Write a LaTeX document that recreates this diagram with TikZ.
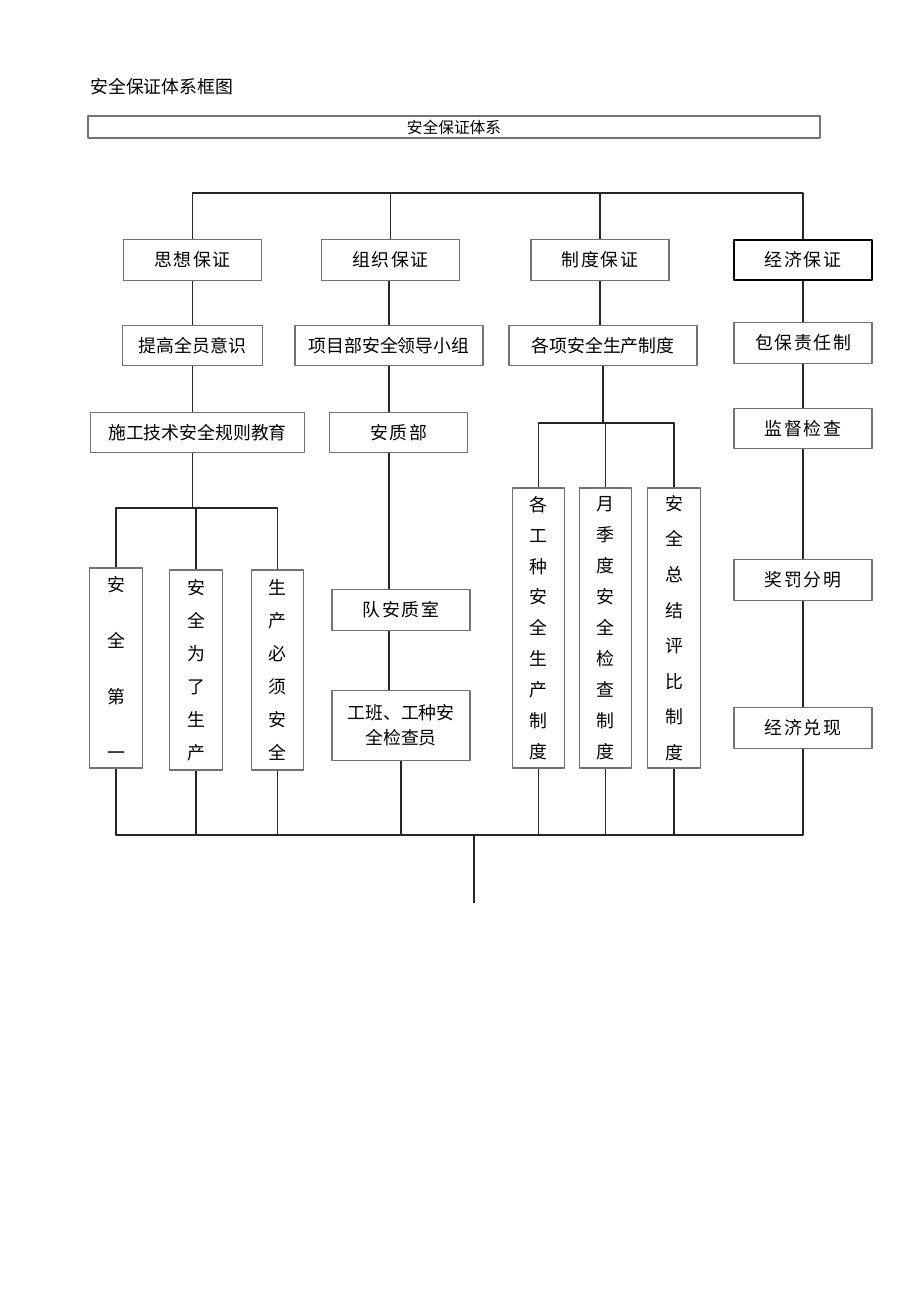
\documentclass[tikz,border=0pt]{standalone}
\usepackage{fontspec}
\setmainfont{Noto Sans CJK SC}
\newfontfamily\spaced[LetterSpace=9]{Noto Sans CJK SC}
\begin{document}
\begin{tikzpicture}[x=0.75pt,y=-0.75pt,line join=round,
	font=\fontsize{13.4}{16}\selectfont,
	box/.style={draw=black!55,line width=0.8pt,inner sep=0pt,align=center},
	wbox/.style={box,minimum width=103.5pt,minimum height=30.5pt},
	sbox/.style={wbox,font=\fontsize{13.4}{16}\spaced},
	vbox/.style={box,minimum width=39.5pt,minimum height=150pt},
	tall/.style={box,minimum width=39.5pt,minimum height=210pt},
	link/.style={draw=black!85,line width=1pt}]
	\useasboundingbox (0,0) rectangle (920,1306);
	\def\busT{193} \def\busS{508} \def\busD{423} \def\busB{835} % bus lines
	
	\node[anchor=west,inner sep=0pt] (title) at (90,87) {安全保证体系框图};
	\node[box,minimum width=549pt,minimum height=16.5pt,font=\fontsize{11.8}{14}\selectfont] (head) at (454,127) {安全保证体系};
	
	% first row
	\node[sbox] (s1) at (192.5,260) {思想保证};
	\node[sbox] (z1) at (390.5,260) {组织保证};
	\node[sbox] (d1) at (600,260) {制度保证};
	\node[sbox,draw=black,line width=1.4pt] (j1) at (803,260) {经济保证};
	
	% second row
	\node[wbox,minimum width=105.5pt] (s2) at (192.5,345.5) {提高全员意识};
	\node[wbox,minimum width=141pt] (z2) at (389,345.5) {项目部安全领导小组};
	\node[wbox,minimum width=141pt] (d2) at (603,345.5) {各项安全生产制度};
	\node[sbox] (j2) at (803,343) {包保责任制};
	
	% third row
	\node[wbox,minimum width=161pt] (s3) at (197.5,432.5) {施工技术安全规则教育};
	\node[sbox,minimum width=103pt] (z3) at (398.5,432.5) {安质部};
	\node[sbox] (j3) at (803,428.5) {监督检查};
	
	\node[vbox] (sa) at (116,668) {安\\[26pt]全\\[26pt]第\\[26pt]一};
	\node[vbox] (sb) at (196,670) {安\\[8.7pt]全\\[8.7pt]为\\[8.7pt]了\\[8.7pt]生\\[8.7pt]产};
	\node[vbox] (sc) at (277.5,670) {生\\[8.7pt]产\\[8.7pt]必\\[8.7pt]须\\[8.7pt]安\\[8.7pt]全};
	
	\node[sbox] (z4) at (401,610) {队安质室};
	\node[wbox,minimum height=52pt] (z5) at (401,725.5) {工班、工种安\\[3pt]全检查员};
	
	\node[tall] (da) at (538.5,628) {各\\[7.2pt]工\\[7.2pt]种\\[7.2pt]安\\[7.2pt]全\\[7.2pt]生\\[7.2pt]产\\[7.2pt]制\\[7.2pt]度};
	\node[tall] (db) at (605.5,628) {月\\[7.2pt]季\\[7.2pt]度\\[7.2pt]安\\[7.2pt]全\\[7.2pt]检\\[7.2pt]查\\[7.2pt]制\\[7.2pt]度};
	\node[tall] (dc) at (674,628) {安\\[10.7pt]全\\[10.7pt]总\\[10.7pt]结\\[10.7pt]评\\[10.7pt]比\\[10.7pt]制\\[10.7pt]度};
	
	\node[sbox] (j4) at (803,580) {奖罚分明};
	\node[sbox] (j5) at (803,728) {经济兑现};
	
	\coordinate (top) at (474,903);
	
	% top bus
	\path[link] (s1.north) |- (j1.north |- 0,\busT) -- (j1.north);
	\path[link] (z1.north) -- (z1.north |- 0,\busT);
	\path[link] (d1.north) -- (d1.north |- 0,\busT);
	
	% column links
	\path[link] (s1) -- (s2) (s2.south) -- (s2.south |- s3.north);
	\path[link] (s2.south |- s3.south) -- (s2.south |- 0,\busS);
	\path[link] (sa.north) |- (sc.north |- 0,\busS) -- (sc.north);
	\path[link] (sb.north) -- (sb.north |- 0,\busS);
	
	\path[link] (z2.north |- z1.south) -- (z2.north);
	\path[link] (z2.south) -- (z2.south |- z3.north);
	\path[link] (z2.south |- z3.south) -- (z2.south |- z4.north);
	\path[link] (z2.south |- z4.south) -- (z2.south |- z5.north);
	
	\path[link] (d1.south) -- (d1.south |- d2.north) (d2.south) -- (d2.south |- 0,\busD);
	\path[link] (da.north) |- (dc.north |- 0,\busD) -- (dc.north);
	\path[link] (db.north) -- (db.north |- 0,\busD);
	
	\path[link] (j1) -- (j2) (j2) -- (j3) (j3) -- (j4) (j4) -- (j5);
	
	% bottom bus
	\path[link] (sa.south) |- (j5.south |- 0,\busB) -- (j5.south);
	\foreach \n in {sb,sc,z5,da,db,dc}
		\path[link] (\n.south) -- (\n.south |- 0,\busB);
	\path[link] (top |- 0,\busB) -- (top);
\end{tikzpicture}
\end{document}
